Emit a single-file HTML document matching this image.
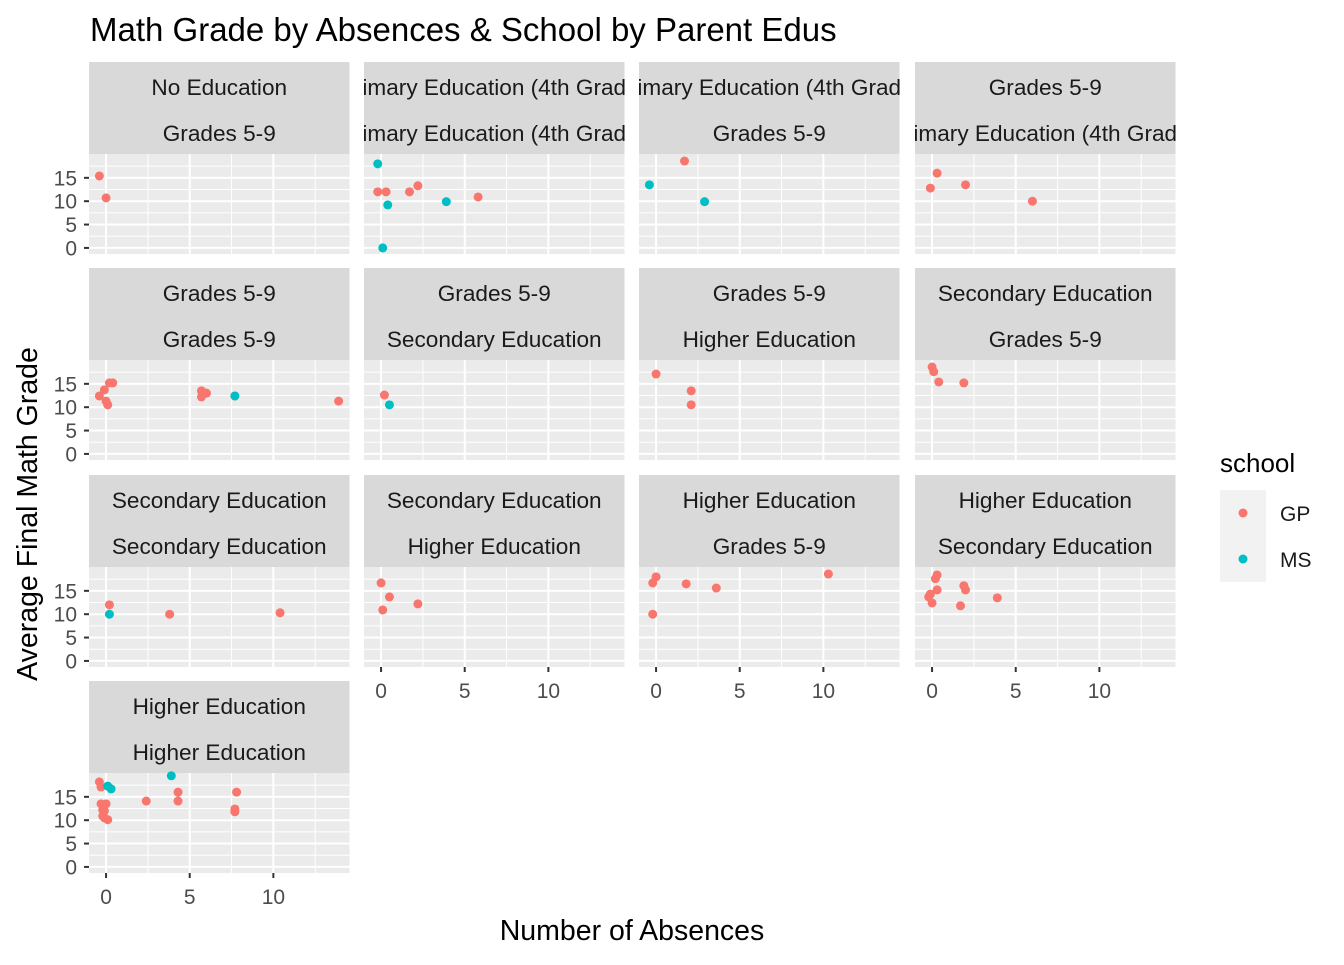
<!DOCTYPE html>
<html><head><meta charset="utf-8"><style>
body{margin:0;background:#fff}
svg text{font-family:"Liberation Sans",Arial,sans-serif}
</style></head><body>
<svg id="c" width="1344" height="960" viewBox="0 0 1344 960">
<text x="90" y="41" font-size="33" fill="#000">Math Grade by Absences &amp; School by Parent Edus</text>
<text x="632" y="940" font-size="28.5" text-anchor="middle" fill="#000">Number of Absences</text>
<text transform="translate(37,514) rotate(-90)" font-size="28.5" text-anchor="middle" fill="#000">Average Final Math Grade</text>
<g>
<text x="1220" y="472" font-size="26" fill="#000">school</text>
<rect x="1220" y="490" width="46" height="46" fill="#f2f2f2"/>
<circle cx="1243" cy="513" r="4.5" fill="#F8766D"/>
<text x="1280" y="521" font-size="21" fill="#1a1a1a">GP</text>
<rect x="1220" y="536" width="46" height="46" fill="#f2f2f2"/>
<circle cx="1243" cy="559" r="4.5" fill="#00BFC4"/>
<text x="1280" y="567" font-size="21" fill="#1a1a1a">MS</text>
</g>
</svg>
<script>
const stripTop=["No Education","imary Education (4th Grad","imary Education (4th Grad","Grades 5-9","Grades 5-9","Grades 5-9","Grades 5-9","Secondary Education","Secondary Education","Secondary Education","Higher Education","Higher Education","Higher Education"];
const stripBottom=["Grades 5-9","imary Education (4th Grad","Grades 5-9","imary Education (4th Grad","Grades 5-9","Secondary Education","Higher Education","Grades 5-9","Secondary Education","Higher Education","Grades 5-9","Secondary Education","Higher Education"];
const xTicks=[0,5,10];
const yTicks=[0,5,10,15];
// points per panel: [absences, grade, school]
const absences=[
[-0.4,0],
[-0.2,-0.2,0.3,1.7,2.2,0.4,3.9,5.8,0.1],
[1.7,-0.4,2.9],
[0.3,-0.1,2,6],
[0,-0.4,-0.1,0.2,0.1,0.4,5.7,6,5.7,7.7,7.7,13.9],
[0.2,0.5],
[0,2.1,2.1],
[0,0.1,0.4,1.9],
[0.2,0.2,3.8,10.4],
[0,0.5,0.1,2.2],
[0,-0.2,1.8,3.6,10.3,-0.2],
[0.3,0.2,0.3,-0.1,-0.2,0,1.7,1.9,2,3.9],
[-0.4,-0.3,0.1,0.3,2.4,3.9,4.3,4.3,7.8,7.7,7.7,-0.3,0,-0.2,-0.1,-0.2,0.1,-0.1]];
const grades=[
[15.4,10.7],
[18,12,12,12,13.3,9.2,9.9,10.9,0],
[18.6,13.5,9.9],
[16,12.8,13.5,10],
[11.3,12.4,13.7,15.2,10.5,15.2,13.5,13,12.2,12.4,12.4,11.3],
[12.6,10.5],
[17.1,13.5,10.5],
[18.6,17.6,15.4,15.2],
[12,10,10,10.3],
[16.7,13.7,10.9,12.2],
[18,16.7,16.5,15.6,18.6,10],
[18.4,17.6,15.2,14.3,13.7,12.4,11.8,16.1,15.2,13.5],
[18.2,17.1,17.3,16.7,14.1,19.5,16,14.1,16,12.4,11.8,13.5,13.5,12.2,12,10.9,10.1,10.5]];
const schools=[
"GG","MGGGGMMGM","GMM","GGGG","GGGGGGGGGGMG","GM","GGG","GGGG","GMGG","GGGG","GGGGGG","GGGGGGGGGG","GGMMGMGGGGGGGGGGGG"];

const NS="http://www.w3.org/2000/svg";
const svg=document.getElementById('c');
const colX=[89,364,639,915], pw=260.5;
const rowY=[62,268,475,681], sh=92, ph=100;
const xmin=-1.02,xmax=14.55,ymin=-1.3,ymax=20.1;
function mk(t,a,p){const e=document.createElementNS(NS,t);for(const k in a)e.setAttribute(k,a[k]);(p||svg).appendChild(e);return e;}
const defs=mk('defs',{});
for(let i=0;i<13;i++){
  const col=i%4,row=Math.floor(i/4);
  const x0=colX[col],sy=rowY[row],py=sy+sh;
  const sx=v=>x0+(v-xmin)/(xmax-xmin)*pw;
  const syf=v=>py+ph-(v-ymin)/(ymax-ymin)*ph;
  const g=mk('g',{});
  
  
  const cp=mk('clipPath',{id:'cp'+i},defs);
  mk('rect',{x:x0,y:sy,width:pw,height:sh},cp);
  const st=mk('rect',{x:x0,y:sy,width:pw,height:sh,fill:'#d9d9d9'},g);
  
  
  const tg=mk('g',{'clip-path':'url(#cp'+i+')'},g);
  const t1=mk('text',{x:x0+pw/2,y:sy+33,'font-size':22.6,'text-anchor':'middle',fill:'#1a1a1a'},tg);
  t1.textContent=stripTop[i];
  
  
  const t2=mk('text',{x:x0+pw/2,y:sy+79,'font-size':22.6,'text-anchor':'middle',fill:'#1a1a1a'},tg);
  t2.textContent=stripBottom[i];
  
  
  const bg=mk('rect',{x:x0,y:py,width:pw,height:ph,fill:'#ebebeb'},g);
  
  
  [2.5,7.5,12.5].forEach(v=>mk('line',{x1:sx(v),x2:sx(v),y1:py,y2:py+ph,stroke:'#fff','stroke-width':1},g));
  [2.5,7.5,12.5,17.5].forEach(v=>mk('line',{x1:x0,x2:x0+pw,y1:syf(v),y2:syf(v),stroke:'#fff','stroke-width':1},g));
  xTicks.forEach(v=>mk('line',{x1:sx(v),x2:sx(v),y1:py,y2:py+ph,stroke:'#fff','stroke-width':2},g));
  yTicks.forEach(v=>mk('line',{x1:x0,x2:x0+pw,y1:syf(v),y2:syf(v),stroke:'#fff','stroke-width':2},g));
  if(col===0){
    yTicks.forEach(v=>{
      mk('line',{x1:x0-5,x2:x0,y1:syf(v),y2:syf(v),stroke:'#333','stroke-width':2},g);
      const t=mk('text',{x:x0-12,y:syf(v)+7.5,'font-size':21,'text-anchor':'end',fill:'#4d4d4d'},g);
      t.textContent=v;
      
      
    });
  }
  if(i>=9||i===12){
    xTicks.forEach(v=>{
      mk('line',{x1:sx(v),x2:sx(v),y1:py+ph,y2:py+ph+5,stroke:'#333','stroke-width':2},g);
      const t=mk('text',{x:sx(v),y:py+ph+31,'font-size':21,'text-anchor':'middle',fill:'#4d4d4d'},g);
      t.textContent=v;
      
      
    });
  }
  absences[i].forEach((a,j)=>{
    const c=mk('circle',{cx:sx(a),cy:syf(grades[i][j]),r:4.5,fill:schools[i][j]==='M'?'#00BFC4':'#F8766D'},g);
    
    
  });
}
</script>
</body></html>
